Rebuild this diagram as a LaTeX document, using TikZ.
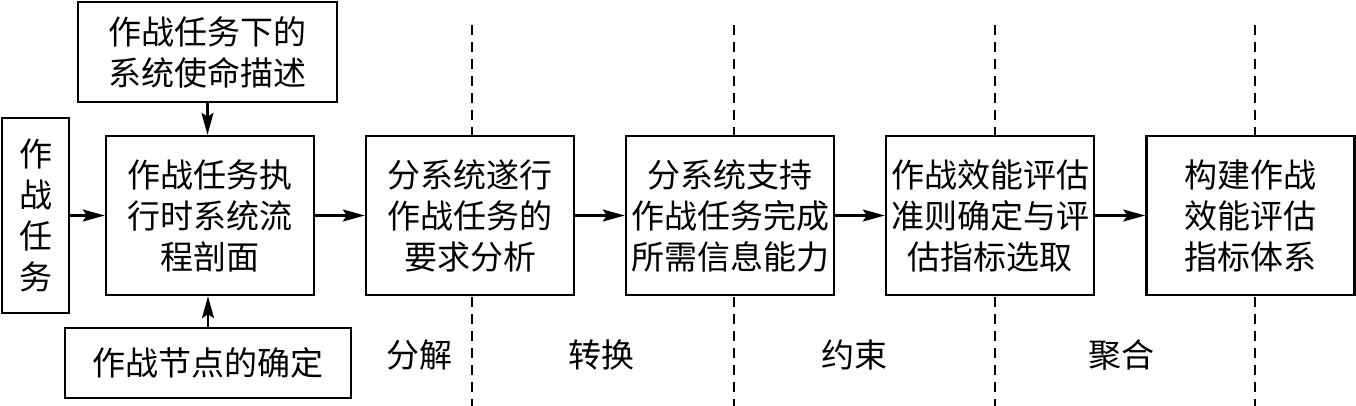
\documentclass[tikz,border=0pt]{standalone}
\usepackage{fontspec}
\setmainfont{Noto Sans CJK SC}
\usetikzlibrary{arrows.meta,positioning}
\tikzset{
  blk/.style={draw, line width=2.4pt, fill=white, align=center, inner sep=0pt,
    minimum width=208pt, minimum height=159pt, font=\fontsize{33}{41}\selectfont},
  lbl/.style={font=\fontsize{33}{41}\selectfont},
  arr/.style={line width=2.2pt, -{Stealth[length=22pt,width=12pt,inset=4pt]}},
  sep/.style={line width=1.8pt, dash pattern=on 10pt off 7pt}
}

\begin{document}
\begin{tikzpicture}[x=1pt,y=-1pt]
\useasboundingbox (0,0) rectangle (1356,406);
% phase separators
\foreach \xs in {472,734,995,1255}
  \draw[sep] (\xs,25) -- (\xs,406);
\node[blk, minimum width=67pt, minimum height=195pt] (task) at (35.5,215.5) {作\\战\\任\\务};
\node[blk, minimum width=259pt, minimum height=100pt] (mission) at (207.5,52) {作战任务下的\\系统使命描述};
\node[blk] (flow) at (210,215.5) {作战任务执\\行时系统流\\程剖面};
\node[blk, minimum width=286pt, minimum height=70pt] (nodes) at (208,363) {作战节点的确定};
\node[blk] (req) at (470,215.5) {分系统遂行\\作战任务的\\要求分析};
\node[blk] (info) at (730,215.5) {分系统支持\\作战任务完成\\所需信息能力};
\node[blk] (crit) at (990,215.5) {作战效能评估\\准则确定与评\\估指标选取};
\node[blk] (sys) at (1250.5,215.5) {构建作战\\效能评估\\指标体系};
% stage labels
\node[lbl] (decomp) at (419,355) {分解};
\node[lbl] (trans) at (601,355) {转换};
\node[lbl] (constr) at (854,355) {约束};
\node[lbl] (aggr) at (1121,355) {聚合};
\draw[arr] (mission.south) -- (mission.south |- flow.north);
\draw[arr] (nodes.north) -- (nodes.north |- flow.south);
\draw[arr] (task) -- (flow);
\draw[arr] (flow) -- (req);
\draw[arr] (req) -- (info);
\draw[arr] (info) -- (crit);
\draw[arr] (crit) -- (sys);
\end{tikzpicture}
\end{document}
